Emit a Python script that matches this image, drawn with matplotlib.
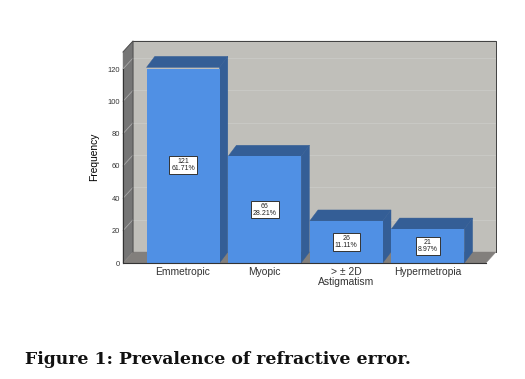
import matplotlib
matplotlib.use("Agg")
import matplotlib.pyplot as plt
from matplotlib.patches import Polygon

categories = ["Emmetropic", "Myopic", "> \u00b1 2D\nAstigmatism", "Hypermetropia"]
counts = [121, 66, 26, 21]
percents = ["61.71%", "28.21%", "11.11%", "8.97%"]
yticks = [0, 20, 40, 60, 80, 100, 120]

W, H = 525, 379
plt.rcParams["font.family"] = ["Liberation Sans", "DejaVu Sans"]
fig = plt.figure(figsize=(W / 100, H / 100), dpi=100, facecolor="white")

# plot box in pixels (front plane)
L, R, B, T = 123, 486, 263, 69
ax = fig.add_axes([L / W, 1 - B / H, (R - L) / W, (B - T) / H])
ax.patch.set_alpha(0)
SPACING = 81.6
FIRST = 183
ax.set_xlim((L - FIRST) / SPACING, (R - FIRST) / SPACING)
ax.set_ylim(0, 120)
sx = (R - L) / (ax.get_xlim()[1] - ax.get_xlim()[0])
sy = (B - T) / 120
DX, DY = 10 / sx, 11 / sy          # wall depth
BDX, BDY = 8.3 / sx, 11 / sy       # bar depth
x0, x1 = ax.get_xlim()
top = (B - 41) / sy - DY           # height of back wall above the back floor

def poly(pts, color, z):
    ax.add_patch(Polygon(pts, closed=True, facecolor=color, edgecolor=color, lw=0.3,
                         clip_on=False, zorder=z))

# walls
poly([(x0 + DX, DY), (x1 + DX, DY), (x1 + DX, DY + top), (x0 + DX, DY + top)], "#C0BFBA", 1)
poly([(x0, 0), (x0 + DX, DY), (x0 + DX, DY + top), (x0, top)], "#757575", 1)
poly([(x0, 0), (x1, 0), (x1 + DX, DY), (x0 + DX, DY)], "#827F7C", 1)
ax.plot([x0 + DX, x1 + DX, x1 + DX], [DY + top, DY + top, DY], color="#404040", lw=0.7, clip_on=False, zorder=1.5)
ax.plot([x0, x0 + DX, x0 + DX], [top, DY + top, DY], color="#505050", lw=0.7, clip_on=False, zorder=1.5)

# gridlines on the walls
for t in yticks[1:]:
    ax.plot([x0 + DX, x1 + DX], [t + DY, t + DY], color="#C9C9C5", lw=0.7,
            clip_on=False, zorder=1.2)
    ax.plot([x0, x0 + DX], [t, t + DY], color="#A8A8A8", lw=0.6,
            clip_on=False, zorder=1.2)

# bars
w = 73 / SPACING
xs = list(range(len(categories)))
ax.bar(xs, counts, width=w, color="#5090E4", zorder=3)
for x, c in zip(xs, counts):
    a, b = x - w / 2, x + w / 2
    poly([(b, 0), (b + BDX, BDY), (b + BDX, c + BDY), (b, c)], "#345E96", 2.5)
    poly([(a, c), (b, c), (b + BDX, c + BDY), (a + BDX, c + BDY)], "#345E96", 2.5)

# value labels
for x, c, p in zip(xs, counts, percents):
    ax.text(x, c / 2, f"{c}\n{p}", ha="center", va="center", fontsize=5.0, linespacing=0.95,
            color="#222222", zorder=5,
            bbox=dict(boxstyle="square,pad=0.28", facecolor="white", edgecolor="#333333", lw=0.7))

# axes furniture
for s in ("top", "right"):
    ax.spines[s].set_visible(False)
for s in ("left", "bottom"):
    ax.spines[s].set_color("#333333")
    ax.spines[s].set_linewidth(0.8)
    ax.spines[s].set_zorder(4)
ax.set_yticks(yticks)
ax.set_xticks(xs)
ax.set_xticklabels(categories, fontsize=7.4, color="#333333", linespacing=1.0)
ax.tick_params(axis="x", length=0, pad=3)
ax.tick_params(axis="y", length=0, pad=2, labelsize=5.4, labelcolor="#333333")
ax.set_ylabel("Frequency", fontsize=7.4, color="#000000")
ax.yaxis.set_label_coords((99 - L) / (R - L), (B - 157) / (B - T))

fig.text(25 / W, 1 - 360 / H, "Figure 1: Prevalence of refractive error.",
         family="DejaVu Serif", fontweight="bold", fontsize=12.4, color="#111111",
         ha="left", va="center")

fig.savefig("out.png", dpi=100)
